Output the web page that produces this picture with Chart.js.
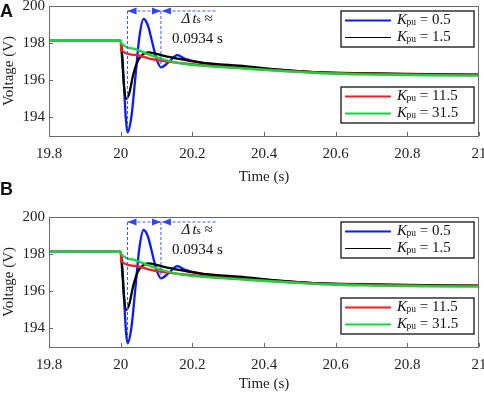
<!DOCTYPE html>
<html>
<head>
<meta charset="utf-8">
<script src="https://cdn.jsdelivr.net/npm/chart.js@4.4.0/dist/chart.umd.min.js"></script>
<style>
  html, body { margin: 0; padding: 0; background: #fff; overflow: hidden; }
  #wrap { position: relative; width: 484px; height: 393px; }
  canvas { position: absolute; left: 0; }
  .tag { position: absolute; left: 0; font: bold 18px "Liberation Sans", Arial, sans-serif; color: #111; }
</style>
</head>
<body>
<div id="wrap">
  <canvas id="panelA" width="484" height="190" style="top:0"></canvas>
  <canvas id="panelB" width="484" height="182" style="top:211px"></canvas>
  <div class="tag" style="top:1px">A</div>
  <div class="tag" style="top:179px">B</div>
</div>
<script>
// data
const kValues = [0.5, 1.5, 11.5, 31.5];
const xTicks = [19.8, 20, 20.2, 20.4, 20.6, 20.8, 21];
const xTickLabels = ['19.8', '20', '20.2', '20.4', '20.6', '20.8', '21'];
const yTicks = [194, 196, 198, 200];
const yTickLabels = ['194', '196', '198', '200'];

const blueT = [19.8, 20.0, 20.005, 20.010, 20.015, 20.019, 20.030, 20.041, 20.052, 20.064, 20.076, 20.088, 20.101, 20.113, 20.135, 20.158, 20.18, 20.22, 20.33, 20.45, 20.56, 20.7, 20.85, 21.0];
const blueV = [198.12, 198.12, 197.2, 195.4, 193.8, 193.2, 194.05, 196.15, 198.3, 199.3, 198.95, 198.05, 197.1, 196.7, 197.0, 197.35, 197.15, 196.97, 196.73, 196.56, 196.42, 196.36, 196.32, 196.29];

const blackT = [19.8, 20.0, 20.004, 20.009, 20.016, 20.024, 20.035, 20.048, 20.062, 20.078, 20.095, 20.115, 20.15, 20.22, 20.35, 20.45, 20.56, 20.7, 20.85, 21.0];
const blackV = [198.12, 198.12, 197.2, 195.8, 195.0, 195.3, 196.3, 197.05, 197.4, 197.5, 197.45, 197.34, 197.2, 196.97, 196.75, 196.56, 196.42, 196.37, 196.33, 196.30];

const redT = [19.8, 20.0, 20.002, 20.04, 20.08, 20.12, 20.17, 20.25, 20.35, 20.45, 20.56, 20.7, 20.85, 21.0];
const redV = [198.12, 198.12, 197.62, 197.37, 197.17, 197.03, 196.92, 196.78, 196.64, 196.52, 196.41, 196.35, 196.31, 196.29];

const greenT = [19.8, 20.0, 20.002, 20.04, 20.08, 20.12, 20.17, 20.25, 20.35, 20.45, 20.56, 20.7, 20.85, 21.0];
const greenV = [198.12, 198.12, 198.0, 197.68, 197.38, 197.12, 196.9, 196.75, 196.62, 196.5, 196.38, 196.31, 196.27, 196.25];

const colors = ['#0a1aff', '#000000', '#ff1a1a', '#10d838'];

Chart.defaults.font.family = '"Liberation Serif", "Times New Roman", serif';
Chart.defaults.font.size = 15;
Chart.defaults.color = '#222';

function pts(t, v) {
    return t.map((x, i) => ({ x: x, y: v[i] }));
}

function drawK(ctx, x, y, val) {
    ctx.fillStyle = '#111';
    ctx.textBaseline = 'middle';
    ctx.textAlign = 'left';
    ctx.font = 'italic 15px "Liberation Serif"';
    ctx.fillText('K', x, y);
    x += ctx.measureText('K').width - 0.5;
    ctx.font = '9.5px "Liberation Serif"';
    ctx.fillText('pu', x, y + 2);
    x += ctx.measureText('pu').width;
    ctx.font = '15px "Liberation Serif"';
    ctx.fillText(' = ' + val, x, y);
}

function arrowHead(ctx, x, y, dir) {
    ctx.beginPath();
    ctx.moveTo(x, y);
    ctx.lineTo(x + dir * 9, y - 3.5);
    ctx.lineTo(x + dir * 9, y + 3.5);
    ctx.closePath();
    ctx.fill();
}

// frame, inward ticks, legend boxes and the settling time note
const decor = {
    id: 'decor',
    afterDatasetsDraw(chart) {
        const ctx = chart.ctx;
        const a = chart.chartArea;
        const xs = chart.scales.x, ys = chart.scales.y;
        ctx.save();

        // settling time annotation
        const x1 = xs.getPixelForValue(20.019);
        const x2 = xs.getPixelForValue(20.019 + 0.0934);
        const yA = ys.getPixelForValue(199.73);
        ctx.strokeStyle = '#3a55ff';
        ctx.fillStyle = '#2a45ff';
        ctx.lineWidth = 1;
        ctx.setLineDash([3, 2]);
        ctx.beginPath();
        ctx.moveTo(x1, yA); ctx.lineTo(x1, ys.getPixelForValue(193.2));
        ctx.moveTo(x2, yA); ctx.lineTo(x2, ys.getPixelForValue(196.7));
        ctx.moveTo(x1, yA); ctx.lineTo(xs.getPixelForValue(20.268), yA);
        ctx.stroke();
        ctx.setLineDash([]);
        arrowHead(ctx, x1, yA, 1);
        arrowHead(ctx, x2, yA, -1);
        arrowHead(ctx, x2 + 1, yA, 1);

        let tx = xs.getPixelForValue(20.17);
        const ty = ys.getPixelForValue(199.28);
        ctx.fillStyle = '#111';
        ctx.textBaseline = 'middle';
        ctx.textAlign = 'left';
        ctx.font = 'italic 15px "Liberation Serif"';
        ctx.fillText('\u0394', tx, ty);
        tx += ctx.measureText('\u0394').width + 2;
        ctx.fillText('t', tx, ty);
        tx += ctx.measureText('t').width;
        ctx.font = '11px "Liberation Serif"';
        ctx.fillText('s', tx, ty + 1);
        tx += ctx.measureText('s').width;
        ctx.font = '15px "Liberation Serif"';
        ctx.fillText(' \u2248', tx, ty);
        ctx.textAlign = 'center';
        ctx.fillText('0.0934 s', xs.getPixelForValue(20.214), ys.getPixelForValue(198.2));

        // legend boxes
        const boxes = [[0, 1, a.top + 5], [2, 3, a.top + 81]];
        boxes.forEach(b => {
            const bx = a.right - 138, by = b[2], bw = 133, bh = 36;
            ctx.fillStyle = '#fff';
            ctx.fillRect(bx, by, bw, bh);
            ctx.strokeStyle = '#111';
            ctx.lineWidth = 1.3;
            ctx.strokeRect(bx, by, bw, bh);
            [b[0], b[1]].forEach((k, j) => {
                const ry = by + 9.5 + j * 17;
                ctx.strokeStyle = colors[k];
                ctx.lineWidth = k === 1 ? 1.2 : 1.8;
                ctx.beginPath();
                ctx.moveTo(bx + 4, ry); ctx.lineTo(bx + 50, ry);
                ctx.stroke();
                drawK(ctx, bx + 56, ry, kValues[k]);
            });
        });

        // axes box and inward tick marks
        ctx.strokeStyle = '#6a6a6a';
        ctx.lineWidth = 1;
        ctx.strokeRect(a.left + 0.5, a.top + 0.5, a.right - a.left - 1, a.bottom - a.top);
        ctx.beginPath();
        xTicks.forEach(v => {
            const px = Math.round(xs.getPixelForValue(v)) + 0.5;
            ctx.moveTo(px, a.bottom); ctx.lineTo(px, a.bottom - 4);
        });
        yTicks.forEach(v => {
            const py = Math.round(ys.getPixelForValue(v)) + 0.5;
            ctx.moveTo(a.left, py); ctx.lineTo(a.left + 4, py);
        });
        ctx.stroke();
        ctx.restore();
    }
};

function makePanel(id, axisHeight, titlePad) {
    const series = [[blueT, blueV], [blackT, blackV], [redT, redV], [greenT, greenV]];
    return new Chart(document.getElementById(id), {
        type: 'line',
        data: {
            datasets: series.map((s, i) => ({
                label: 'Kpu = ' + kValues[i],
                data: pts(s[0], s[1]),
                borderColor: colors[i],
                borderWidth: 2.3,
                pointRadius: 0,
                cubicInterpolationMode: 'monotone',
                order: 3 - i
            }))
        },
        options: {
            responsive: false,
            animation: false,
            devicePixelRatio: 1,
            layout: { padding: { top: 6, right: 5, left: 0, bottom: 0 } },
            plugins: { legend: { display: false }, tooltip: { enabled: false } },
            scales: {
                x: {
                    type: 'linear',
                    min: 19.8,
                    max: 21,
                    afterBuildTicks: s => { s.ticks = xTicks.map(v => ({ value: v })); },
                    afterFit: s => { s.height = axisHeight; s.paddingLeft = 0; s.paddingRight = 0; },
                    grid: { display: false, drawTicks: false },
                    border: { display: false },
                    ticks: { padding: 9, maxRotation: 0, autoSkip: false, callback: (v, i) => xTickLabels[i] },
                    title: { display: true, text: 'Time (s)', padding: { top: 0, bottom: titlePad } }
                },
                y: {
                    min: 193,
                    max: 200,
                    afterBuildTicks: s => { s.ticks = yTicks.map(v => ({ value: v })); },
                    afterFit: s => { s.width = 49; s.paddingTop = 0; s.paddingBottom = 0; },
                    grid: { display: false, drawTicks: false },
                    border: { display: false },
                    ticks: { padding: 4, callback: (v, i) => yTickLabels[i] },
                    title: { display: true, text: 'Voltage (V)', padding: 0 }
                }
            }
        },
        plugins: [decor]
    });
}

makePanel('panelA', 54, 4);
makePanel('panelB', 46, 0);
</script>
</body>
</html>
